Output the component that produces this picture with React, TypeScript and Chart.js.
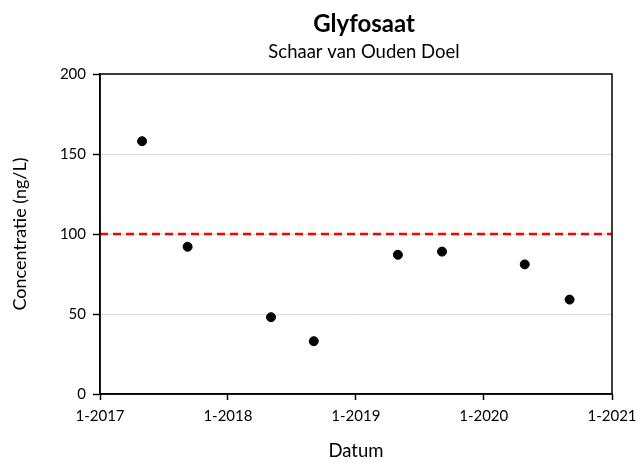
import React, { useEffect, useRef } from "react";
import { Chart, registerables } from "chart.js";

Chart.register(...registerables);

const sampleDates = ["2017-05-01", "2017-09-08", "2018-05-04", "2018-09-03", "2019-05-01", "2019-09-04", "2020-04-27", "2020-09-02"];
const concentrations = [158, 92, 48, 33, 87, 89, 81, 59];
const xTickLabels = ["1-2017", "1-2018", "1-2019", "1-2020", "1-2021"];
const yTicks = [0, 50, 100, 150, 200];
const normValue = 100;
const chartTitle = "Glyfosaat";
const chartSubtitle = "Schaar van Ouden Doel";

const toMs = (s: string) => Date.parse(s + "T00:00:00Z");
const labelToMs = (l: string) => {
  const [m, y] = l.split("-").map(Number);
  return Date.UTC(y, m - 1, 1);
};
const xTickValues = xTickLabels.map(labelToMs);
const xMin = xTickValues[0];
const xMax = xTickValues[xTickValues.length - 1];

const FONT = "Lato, 'Open Sans', sans-serif";

const boxPlugin = {
  id: "boxBorder",
  afterDatasetsDraw(chart: any) {
    const { ctx, chartArea } = chart;
    ctx.save();
    ctx.strokeStyle = "#000";
    ctx.lineWidth = 1.5;
    ctx.strokeRect(chartArea.left, chartArea.top, chartArea.right - chartArea.left, chartArea.bottom - chartArea.top);
    ctx.restore();
  },
};

const titlePlugin = {
  id: "customTitles",
  afterDraw(chart: any) {
    const { ctx, chartArea } = chart;
    const cx = (chartArea.left + chartArea.right) / 2 + 8;
    ctx.save();
    ctx.fillStyle = "#000";
    ctx.textAlign = "center";
    ctx.textBaseline = "alphabetic";
    ctx.font = `bold 24px ${FONT}`;
    ctx.fillText(chartTitle, cx, 31.5);
    ctx.font = `18.5px ${FONT}`;
    ctx.fillText(chartSubtitle, cx, 58.3);
    ctx.restore();
  },
};

export default function App() {
  const ref = useRef<HTMLCanvasElement | null>(null);
  useEffect(() => {
    if (!ref.current) return;
    const chart = new Chart(ref.current, {
      type: "scatter",
      data: {
        datasets: [
          {
            label: "Norm",
            type: "line",
            data: [
              { x: xMin, y: normValue },
              { x: xMax, y: normValue },
            ],
            borderColor: "#ff0000",
            borderWidth: 2.5,
            borderDash: [8, 5],
            pointRadius: 0,
            fill: false,
            order: 2,
          } as any,
          {
            label: "Glyfosaat",
            data: sampleDates.map((d, i) => ({ x: toMs(d), y: concentrations[i] })),
            backgroundColor: "#000",
            borderColor: "#000",
            pointRadius: 4.5,
            pointHoverRadius: 4.5,
            order: 1,
          },
        ],
      },
      options: {
        animation: false,
        responsive: false,
        layout: { padding: { left: 0, right: 26, top: 74, bottom: 0 } },
        plugins: {
          legend: { display: false },
          tooltip: { enabled: false },
          title: { display: false },
          subtitle: { display: false },
        },
        scales: {
          x: {
            type: "linear",
            min: xMin,
            max: xMax,
            afterBuildTicks: (scale: any) => {
              scale.ticks = xTickValues.map((v) => ({ value: v }));
            },
            afterFit: (scale: any) => {
              scale.height = 72;
              scale.paddingLeft = 0;
              scale.paddingRight = 0;
            },
            ticks: {
              color: "#000",
              font: { family: FONT, size: 15 },
              padding: 7,
              maxRotation: 0,
              autoSkip: false,
              callback: (v: any) => {
                const i = xTickValues.indexOf(Number(v));
                return i >= 0 ? xTickLabels[i] : "";
              },
            },
            grid: {
              drawOnChartArea: false,
              drawTicks: true,
              tickLength: 6,
              tickColor: "#000",
              tickWidth: 1.5,
            },
            border: { display: true, color: "#000", width: 1.5 },
            title: {
              display: true,
              text: "Datum",
              color: "#000",
              font: { family: FONT, size: 18.5 },
              padding: { top: 0, bottom: 3.4 },
            },
          },
          y: {
            min: 0,
            max: 200,
            afterBuildTicks: (scale: any) => {
              scale.ticks = yTicks.map((v) => ({ value: v }));
            },
            afterFit: (scale: any) => {
              scale.width = 100;
              scale.paddingTop = 0;
              scale.paddingBottom = 0;
            },
            ticks: {
              color: "#000",
              font: { family: FONT, size: 15 },
              padding: 7,
            },
            grid: {
              color: "#d9d9d9",
              lineWidth: 1,
              drawTicks: true,
              tickLength: 7,
              tickColor: "#000",
              tickWidth: 1.5,
            },
            border: { display: true, color: "#000", width: 1.5 },
            title: {
              display: true,
              text: "Concentratie (ng/L)",
              color: "#000",
              font: { family: FONT, size: 18 },
              padding: { top: 9, bottom: 0 },
            },
          },
        },
      } as any,
      plugins: [boxPlugin, titlePlugin],
    });
    return () => chart.destroy();
  }, []);
  return (
    <div style={{ position: "fixed", left: 0, top: 0, width: 638, height: 466, background: "#fff" }}>
      <canvas ref={ref} width={638} height={466} style={{ display: "block" }} />
    </div>
  );
}
